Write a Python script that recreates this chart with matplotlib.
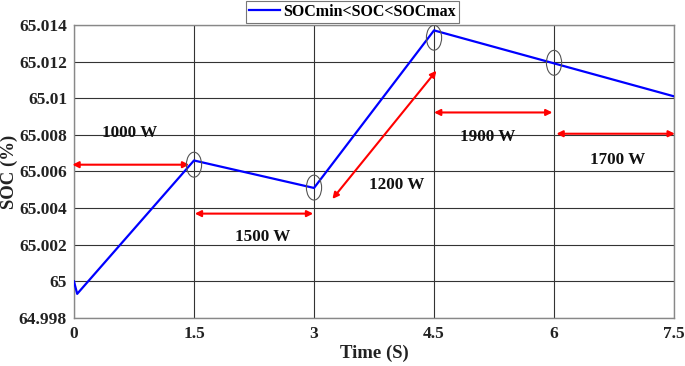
import matplotlib
matplotlib.use("Agg")
import matplotlib.pyplot as plt
from matplotlib.patches import Ellipse

plt.rcParams['font.family'] = ['Liberation Serif', 'DejaVu Serif']
plt.rcParams['font.weight'] = 'bold'

# data
time = [0.0, 0.04, 1.5, 3.0, 4.5, 6.0, 7.5]
soc = [65.0000, 64.99932, 65.0066, 65.0051, 65.0137, 65.0119, 65.0101]

xticks = [0, 1.5, 3, 4.5, 6, 7.5]
xticklabels = ['0', '1.5', '3', '4.5', '6', '7.5']
yticks = [64.998, 65.0, 65.002, 65.004, 65.006, 65.008, 65.01, 65.012, 65.014]
yticklabels = ['64.998', '65', '65.002', '65.004', '65.006', '65.008', '65.01', '65.012', '65.014']

# annotations: (x_start, y_start, x_end, y_end)
arrows = [
    (-0.02, 65.00637, 1.44, 65.00637),
    (1.51, 65.0037, 2.99, 65.0037),
    (3.23, 65.0045, 4.53, 65.0115),
    (4.50, 65.00922, 5.98, 65.00922),
    (6.03, 65.00806, 7.51, 65.00806),
]
labels = ['1000 W', '1500 W', '1200 W', '1900 W', '1700 W']
label_pos = [(0.70, 65.00811), (2.36, 65.0024), (4.03, 65.00528), (5.175, 65.00788), (6.80, 65.00664)]
circle_pos = [(1.5, 65.00637), (3.0, 65.00512), (4.5, 65.0133), (6.0, 65.01193)]

fig = plt.figure(figsize=(6.85, 3.66), dpi=100)
ax = fig.add_axes([0.108, 0.131, 0.876, 0.801])

ax.plot(time, soc, color='#0000ff', lw=1.6, label='SOCmin<SOC<SOCmax', zorder=3)

ax.set_xlim(0, 7.5)
ax.set_ylim(64.998, 65.014)
ax.set_xticks(xticks)
ax.set_xticklabels(xticklabels)
ax.set_yticks(yticks)
ax.set_yticklabels(yticklabels)
ax.tick_params(axis='both', labelsize=12.5, length=0, colors='#222222')
ax.tick_params(axis='x', pad=6)
ax.tick_params(axis='y', pad=5)
for lab in ax.get_xticklabels() + ax.get_yticklabels():
    lab.set_fontweight('bold')
ax.grid(True, color='#333333', lw=0.8)
for s in ax.spines.values():
    s.set_color('#888888')
    s.set_linewidth(1.0)

ax.set_xlabel('Time (S)', fontsize=13.5, fontweight='bold', color='#222222', labelpad=2)
ax.set_ylabel('SOC (%)', fontsize=13.5, fontweight='bold', color='#222222')
ax.yaxis.set_label_coords(-0.094, 0.5)

for (x0, y0, x1, y1) in arrows:
    ax.annotate('', xy=(x1, y1), xytext=(x0, y0),
                arrowprops=dict(arrowstyle='<|-|>', color='#ff0000', lw=1.5,
                                mutation_scale=9, shrinkA=0, shrinkB=0),
                annotation_clip=False, zorder=4)

for txt, (x, y) in zip(labels, label_pos):
    ax.text(x, y, txt, ha='center', va='center', fontsize=12.3, fontweight='bold', color='#111111')

for (x, y) in circle_pos:
    ax.add_patch(Ellipse((x, y), 0.19, 0.00136, fill=False, edgecolor='#555555', lw=0.8, zorder=5))

leg = ax.legend(loc='upper center', bbox_to_anchor=(0.464, 1.083), borderaxespad=0,
                fancybox=False, edgecolor='#777777', framealpha=1, fontsize=11.5,
                handlelength=1.9, handletextpad=0.2, borderpad=0.2)
for t in leg.get_texts():
    t.set_fontweight('bold')
leg.get_frame().set_linewidth(0.8)

fig.savefig('out.png', dpi=100)
